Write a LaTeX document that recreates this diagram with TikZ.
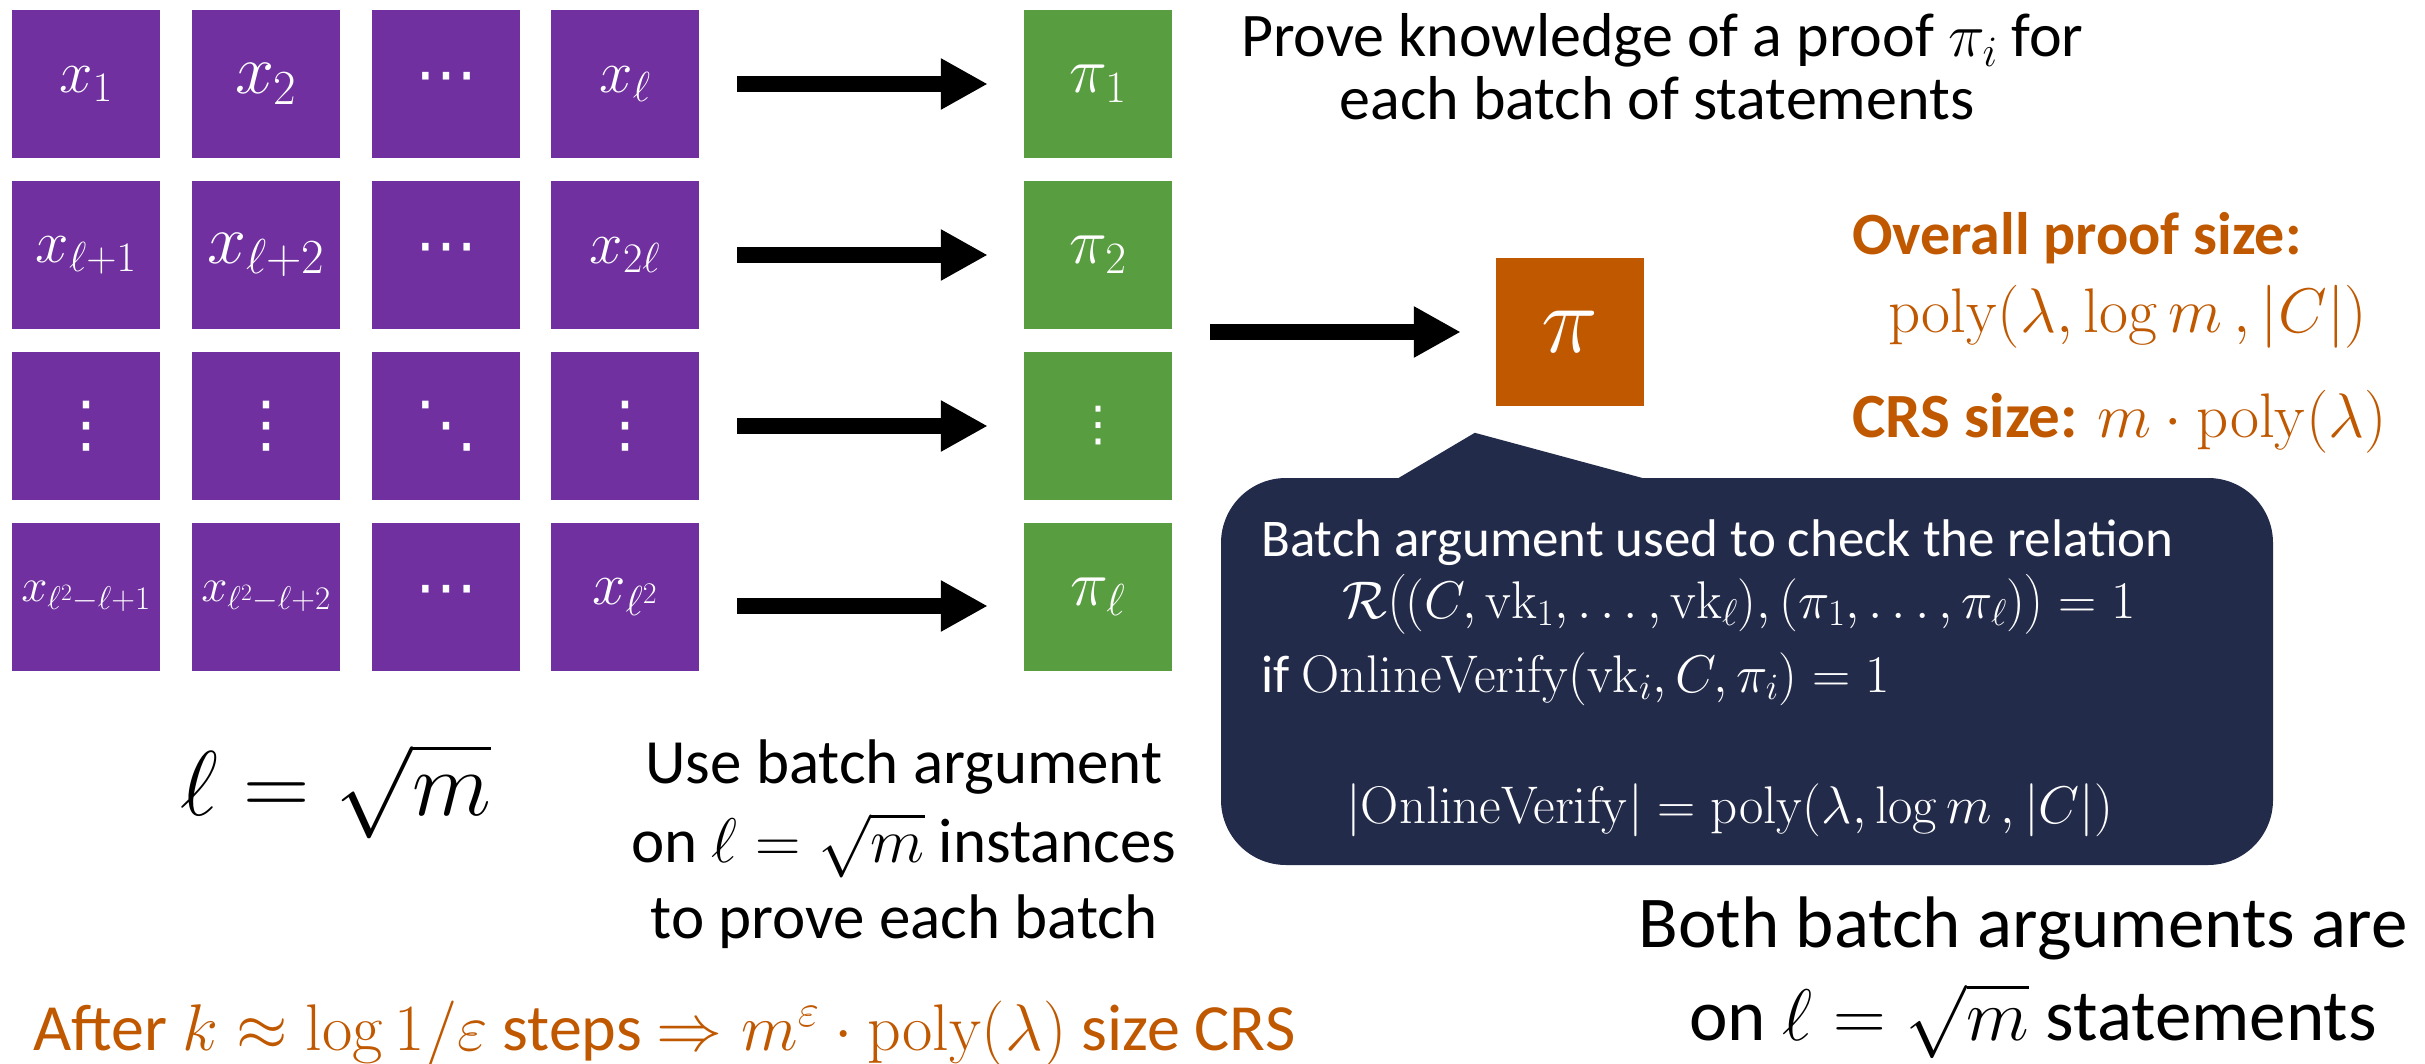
\RequirePackage{fix-cm}
\documentclass[tikz,border=0pt]{standalone}
\usepackage{amsmath}
\usepackage[no-math]{fontspec}
\setmainfont{Carlito}
\newfontfamily\djv{DejaVu Sans}
\usetikzlibrary{arrows.meta}
\definecolor{boxpurple}{RGB}{112,48,160}
\definecolor{boxgreen}{RGB}{88,157,64}
\definecolor{accorange}{RGB}{192,88,0}
\definecolor{navy}{RGB}{35,43,74}
\newcommand{\fsz}[2]{\fontsize{#1pt}{#2pt}\selectfont}
\begin{document}
\begin{tikzpicture}[x=1pt,y=-1pt,
  cell/.style={rectangle, minimum width=148pt, minimum height=148pt, inner sep=0pt, text=white},
  pcell/.style={cell, fill=boxpurple},
  gcell/.style={cell, fill=boxgreen},
  fatarrow/.style={line width=16pt, -{Triangle[length=47pt,width=48pt]}},
  txt/.style={inner sep=0pt, anchor=base west},
  ctxt/.style={inner sep=0pt, anchor=base},
  lab/.style={font=\fsz{60}{68}},
  labbig/.style={font=\fsz{70}{78}},
  labsm/.style={font=\fsz{47}{54}},
  dotsf/.style={font=\djv\fsz{62}{70}}]
\useasboundingbox (0,0) rectangle (2425,1064);
\fill[white] (0,0) rectangle (2425,1064);

% purple grid
\node[pcell, lab]    (p11) at (86,84)  {$x_1$};
\node[pcell, labbig] (p12) at (266,84) {$x_2$};
\node[pcell, dotsf]  (p13) at (446,84) {⋯};
\node[pcell, lab]    (p14) at (625,84) {$x_\ell$};

\node[pcell, lab]    (p21) at (86,255)  {$x_{\ell+1}$};
\node[pcell, labbig] (p22) at (266,255) {$x_{\ell+2}$};
\node[pcell, dotsf]  (p23) at (446,255) {⋯};
\node[pcell, lab]    (p24) at (625,255) {$x_{2\ell}$};

\node[pcell, dotsf]  (p31) at (86,426)  {⋮};
\node[pcell, dotsf]  (p32) at (266,426) {⋮};
\node[pcell, dotsf]  (p33) at (446,426) {⋱};
\node[pcell, dotsf]  (p34) at (625,426) {⋮};

\node[pcell, labsm]  (p41) at (86,597)  {$x_{\ell^2-\ell+1}$};
\node[pcell, labsm]  (p42) at (266,597) {$x_{\ell^2-\ell+2}$};
\node[pcell, dotsf]  (p43) at (446,597) {⋯};
\node[pcell, lab]    (p44) at (625,597) {$x_{\ell^2}$};

% green column
\node[gcell, font=\fsz{64}{72}] (g1) at (1098,84)  {$\pi_1$};
\node[gcell, font=\fsz{64}{72}] (g2) at (1098,255) {$\pi_2$};
\node[gcell, font=\djv\fsz{48}{56}] (g3) at (1098,426) {⋮};
\node[gcell, font=\fsz{64}{72}] (g4) at (1098,597) {$\pi_\ell$};

% arrows rows
\draw[fatarrow, shorten <=38pt, shorten >=36pt] (p14.east) -- (g1.west);
\draw[fatarrow, shorten <=38pt, shorten >=36pt] (p24.east) -- (g2.west);
\draw[fatarrow, shorten <=38pt, shorten >=36pt] (p34.east) -- (g3.west);
\draw[fatarrow, shorten <=38pt, shorten >=36pt] ([yshift=-9pt]p44.east) -- ([yshift=-9pt]g4.west);

% final proof
\node[cell, fill=accorange, font=\fsz{96}{104}] (pi) at (1570,332) {$\pi$};
\coordinate (bigstart) at (1210,332);
\draw[fatarrow, shorten >=35pt] (bigstart) -- (pi.west);

% callout
\node[fill=navy, rounded corners=65pt, minimum width=1052pt, minimum height=387pt, inner sep=0pt] (callout) at (1747,671.5) {};
\fill[navy] ([xshift=173pt,yshift=-3pt]callout.north west) -- ([xshift=254pt,yshift=45pt]callout.north west) -- ([xshift=432pt,yshift=-3pt]callout.north west) -- cycle;

\begin{scope}[every node/.append style={text=white, font=\fsz{53}{64}}]
\node[txt] (c1) at (1261,556) {Batch argument used to check the relation};
\node[txt] (c2) at (1342,618) {$\mathcal{R}\big((C,\mathrm{vk}_1,\dots,\mathrm{vk}_\ell),(\pi_1,\dots,\pi_\ell)\big)=1$};
\node[txt] (c3) at (1261,692) {if $\mathrm{OnlineVerify}(\mathrm{vk}_i,C,\pi_i)=1$};
\node[txt] (c4) at (1346,823) {$|\mathrm{OnlineVerify}|=\mathrm{poly}(\lambda,\log m\,,|C|)$};
\end{scope}

% top text
\node[txt, font=\fsz{62}{75}] (prove1) at (1241,57) {Prove knowledge of a proof $\pi_i$ for};
\node[ctxt, font=\fsz{62}{75}] (prove2) at (1657,120) {each batch of statements};

% right orange
\node[txt, text=accorange, font=\fsz{60}{72}\bfseries] (overall) at (1852,255) {Overall proof size:};
\node[txt, text=accorange, font=\fsz{63}{75}] (polyl) at (1888,333) {$\mathrm{poly}(\lambda,\log m\,,|C|)$};
\node[txt, text=accorange, font=\fsz{63}{75}] (crs) at (1852,437) {\textbf{CRS size:} $m\cdot\mathrm{poly}(\lambda)$};

% left bottom
\node[txt, font=\fsz{92}{100}] (ellm) at (180,815) {$\ell=\sqrt{m}$};
\node[ctxt, font=\fsz{63}{77}] (use1) at (904,783) {Use batch argument};
\node[ctxt, font=\fsz{63}{77}] (use2) at (904,862) {on $\ell=\sqrt{m}$ instances};
\node[ctxt, font=\fsz{63}{77}] (use3) at (904,938) {to prove each batch};
\node[txt, text=accorange, font=\fsz{66}{79}] (after) at (33,1050) {After $k\approx\log 1/\varepsilon$ steps $\Rightarrow m^{\varepsilon}\cdot\mathrm{poly}(\lambda)$ size CRS};

% right bottom
\node[ctxt, font=\fsz{73}{89}] (both1) at (2023,947) {Both batch arguments are};
\node[ctxt, font=\fsz{73}{89}] (both2) at (2033,1040) {on $\ell=\sqrt{m}$ statements};
\end{tikzpicture}
\end{document}
